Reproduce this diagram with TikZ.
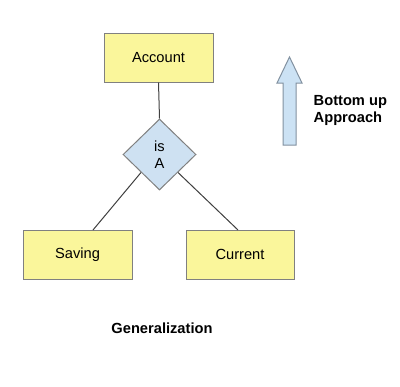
\documentclass[tikz,border=0pt]{standalone}
\usepackage{fontspec}
\setmainfont{Liberation Sans}
\usetikzlibrary{shapes.geometric}
\definecolor{boxyellow}{RGB}{250,246,155}
\definecolor{boxborder}{RGB}{128,128,128}
\definecolor{dialblue}{RGB}{206,225,242}
\definecolor{arrowblue}{RGB}{204,226,244}
\definecolor{arrowborder}{RGB}{130,145,160}
\begin{document}
\begin{tikzpicture}[x=0.75pt,y=-0.75pt,
  every node/.style={font=\fontsize{11}{12.75}\selectfont},
  entbox/.style={draw=boxborder,fill=boxyellow,line width=0.75pt,rectangle,minimum height=36.75pt,inner sep=0pt},
  relbox/.style={draw=boxborder,fill=dialblue,line width=0.75pt,diamond,minimum width=54.75pt,minimum height=53.25pt,inner sep=0pt,align=center},
  link/.style={draw=black!75,line width=0.75pt},
  boldtxt/.style={font=\fontsize{11}{12.75}\selectfont\bfseries}]
\useasboundingbox (0,0) rectangle (400,386);
\fill[white] (0,0) rectangle (400,386);
\node[entbox,minimum width=81.75pt] (acc) at (158.5,57.5) {Account};
\node[entbox,minimum width=81.75pt] (sav) at (77.5,254.5) {Saving};
\node[entbox,minimum width=81pt] (cur) at (240,254.5) {Current};
\node[relbox] (isa) at (159.5,154.5) {is\\A};
\coordinate (savtop) at (93,230);
\coordinate (curtop) at (238,230);
\draw[link] (acc.south) -- (isa.north);
\draw[link] (isa.south west) -- (savtop);
\draw[link] (isa.south east) -- (curtop);
\draw[draw=arrowborder,fill=arrowblue,line width=0.75pt,line join=miter]
  (283,145) -- (283,83) -- (277,83) -- (289.5,57) -- (302,83) -- (296,83) -- (296,145) -- cycle;
\node[boldtxt,anchor=west,align=left] (bu) at (309,110) {Bottom up\\Approach};
\node[boldtxt] (gen) at (162,328) {Generalization};
\end{tikzpicture}
\end{document}
